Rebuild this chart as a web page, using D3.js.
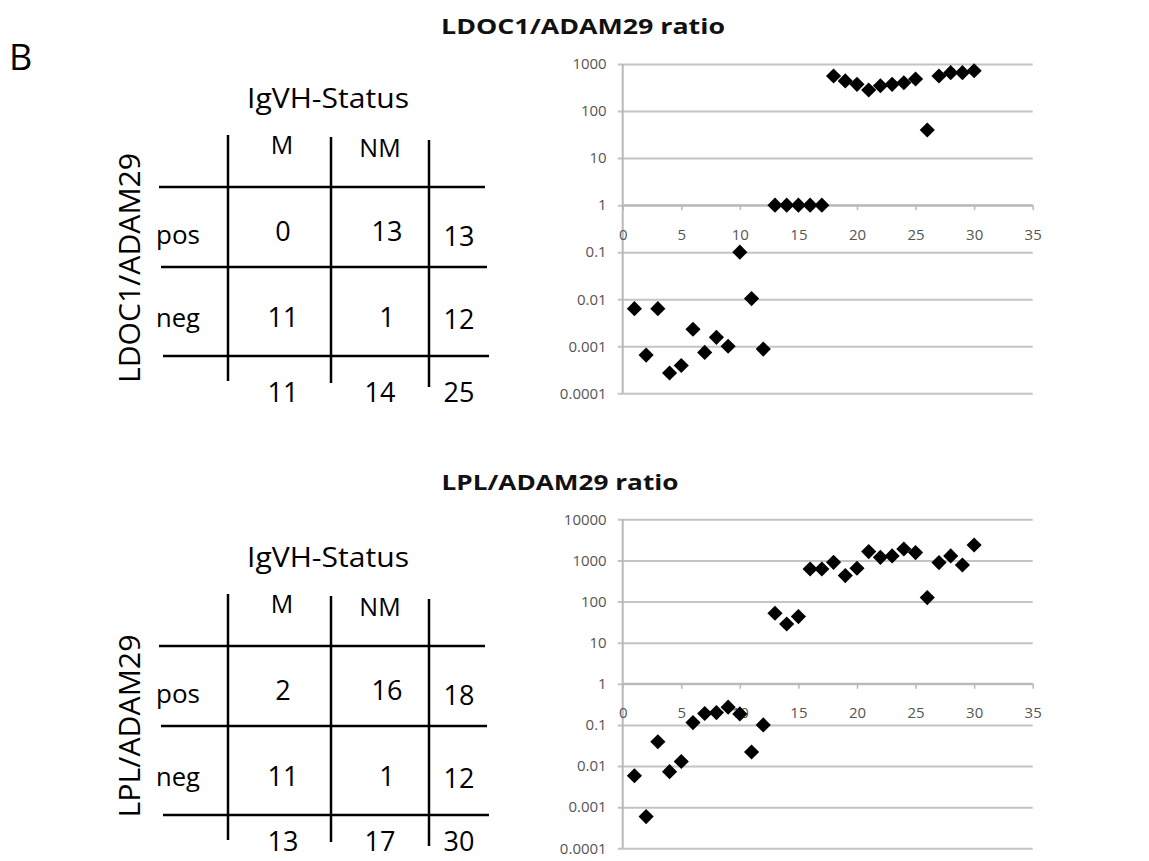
<!DOCTYPE html>
<html>
<head>
<meta charset="utf-8">
<script src="https://cdn.jsdelivr.net/npm/d3@7"></script>
<style>
  body { margin: 0; background: #fff; }
  svg { display: block; }
  text { font-family: "Open Sans", sans-serif; }
</style>
</head>
<body>
<svg id="fig" width="1149" height="861"></svg>
<script>
// sample index 1..30
const samples = d3.range(1, 31);

// LDOC1/ADAM29 ratio per sample
const ldocRatio = [0.0063, 0.00065, 0.0063, 0.00027, 0.00039, 0.0023, 0.00074, 0.00155, 0.001, 0.1,
  0.0103, 0.00087, 1, 1, 1, 1, 1, 556, 437, 370,
  280, 345, 370, 400, 480, 39.6, 556, 654, 654, 720];

// LPL/ADAM29 ratio per sample
const lplRatio = [0.0058, 0.00059, 0.039, 0.0073, 0.0129, 0.114, 0.19, 0.2, 0.27, 0.185,
  0.022, 0.1, 52, 28.5, 43, 620, 620, 900, 427, 645,
  1637, 1190, 1285, 1900, 1550, 125, 885, 1285, 775, 2377];

const xTicks = [0, 5, 10, 15, 20, 25, 30, 35];
const ldocYTicks = [0.0001, 0.001, 0.01, 0.1, 1, 10, 100, 1000];
const lplYTicks = [0.0001, 0.001, 0.01, 0.1, 1, 10, 100, 1000, 10000];

// contingency tables (rows pos/neg, cols M/NM)
const tableCols = ['M', 'NM'];
const tableRows = ['pos', 'neg'];
const ldocCounts = [[0, 13], [11, 1]];
const ldocRowTotals = [13, 12];
const ldocColTotals = [11, 14, 25];
const lplCounts = [[2, 16], [11, 1]];
const lplRowTotals = [18, 12];
const lplColTotals = [13, 17, 30];

const svg = d3.select('#fig');

svg.append('text')
    .attr('x', 9).attr('y', 70)
    .attr('font-size', 36)
    .text('B');

function drawTable(top, label, counts, rowTotals, colTotals, totalsY) {
  const g = svg.append('g').attr('transform', `translate(0,${top})`);
  const vx = [228, 331, 429];
  const vTop = [35, 37, 40];
  const vBot = [281, 283, 287];
  const hy = [87, 167, 256];

  g.append('text')
      .attr('x', 328).attr('y', 8)
      .attr('text-anchor', 'middle')
      .attr('font-size', 27)
      .attr('textLength', 162)
      .attr('lengthAdjust', 'spacingAndGlyphs')
      .text('IgVH-Status');

  g.selectAll('.vline')
    .data(vx)
    .join('line')
      .attr('x1', d => d).attr('x2', d => d)
      .attr('y1', (d, i) => vTop[i]).attr('y2', (d, i) => vBot[i])
      .attr('stroke', '#000')
      .attr('stroke-width', 2.5);

  g.selectAll('.hline')
    .data(hy)
    .join('line')
      .attr('x1', (d, i) => 159 + i * 2).attr('x2', (d, i) => 485 + i * 2)
      .attr('y1', d => d).attr('y2', d => d)
      .attr('stroke', '#000')
      .attr('stroke-width', 2.5);

  const colX = [282, 380];
  const cellX = [283, 387];
  const rowY = [137, 220];

  g.selectAll('.colhead')
    .data(tableCols)
    .join('text')
      .attr('x', (d, i) => colX[i]).attr('y', (d, i) => 54 + i * 3)
      .attr('text-anchor', 'middle')
      .attr('font-size', 25)
      .text(d => d);

  tableRows.forEach((r, ri) => {
    g.append('text')
        .attr('x', 156).attr('y', rowY[ri] + 7)
        .attr('font-size', 26)
        .attr('textLength', 44)
        .attr('lengthAdjust', 'spacingAndGlyphs')
        .text(r);
    counts[ri].forEach((v, ci) => {
      g.append('text')
          .attr('x', cellX[ci]).attr('y', rowY[ri] + 7 - (ri === 0 ? 3 : 0))
          .attr('text-anchor', 'middle')
          .attr('font-size', 27)
          .text(v);
    });
    g.append('text')
        .attr('x', 459).attr('y', rowY[ri] + 9)
        .attr('text-anchor', 'middle')
        .attr('font-size', 27)
        .text(rowTotals[ri]);
  });

  colTotals.forEach((v, i) => {
    g.append('text')
        .attr('x', [283, 380, 459][i]).attr('y', totalsY)
        .attr('text-anchor', 'middle')
        .attr('font-size', 27)
        .text(v);
  });

  g.append('text')
      .attr('transform', `translate(140,${label.cy}) rotate(-90)`)
      .attr('text-anchor', 'middle')
      .attr('font-size', 29)
      .attr('textLength', label.len)
      .attr('lengthAdjust', 'spacingAndGlyphs')
      .text(label.text);
}

drawTable(100, { text: 'LDOC1/ADAM29', cy: 168, len: 230 }, ldocCounts, ldocRowTotals, ldocColTotals, 302);
drawTable(559, { text: 'LPL/ADAM29', cy: 167, len: 183 }, lplCounts, lplRowTotals, lplColTotals, 292);

function drawScatter(cfg) {
  const x = d3.scaleLinear().domain([0, 35]).range([622.7, 1032.7]);
  const y = d3.scaleLog().domain(cfg.yDomain).range(cfg.yRange);
  const g = svg.append('g');

  g.append('text')
      .attr('x', cfg.titleX).attr('y', cfg.titleY)
      .attr('text-anchor', 'middle')
      .attr('font-size', 22)
      .attr('font-weight', 'bold')
      .attr('fill', '#111')
      .attr('textLength', cfg.titleLen)
      .attr('lengthAdjust', 'spacingAndGlyphs')
      .text(cfg.title);

  // horizontal gridlines + left tick labels
  const yAxis = d3.axisLeft(y)
      .tickValues(cfg.yTicks)
      .tickFormat(d => String(+d.toPrecision(1)))
      .tickSize(-(x(35) - x(0)))
      .tickPadding(16);

  const ya = g.append('g')
      .attr('transform', `translate(${x(0)},0)`)
      .call(yAxis);
  ya.select('.domain').remove();
  ya.selectAll('.tick line')
      .attr('x1', -5)
      .attr('stroke', '#c4c4c4')
      .attr('stroke-width', 2);
  ya.selectAll('.tick text')
      .attr('font-size', 15)
      .attr('font-family', '"Open Sans", sans-serif')
      .attr('fill', '#555');

  g.append('line')
      .attr('x1', x(0)).attr('x2', x(0))
      .attr('y1', y(cfg.yDomain[1])).attr('y2', y(cfg.yDomain[0]))
      .attr('stroke', '#b8b8b8')
      .attr('stroke-width', 2);

  // x axis crosses at y = 1
  const xAxis = d3.axisBottom(x)
      .tickValues(xTicks)
      .tickSize(5)
      .tickPadding(19);
  const xa = g.append('g')
      .attr('transform', `translate(0,${y(1)})`)
      .call(xAxis);
  xa.select('.domain')
      .attr('stroke', '#b8b8b8')
      .attr('stroke-width', 2)
      .attr('d', `M${x(0)},0H${x(35)}`);
  xa.selectAll('.tick line')
      .attr('stroke', '#b8b8b8')
      .attr('stroke-width', 1.5);
  xa.selectAll('.tick text')
      .attr('font-size', 15)
      .attr('font-family', '"Open Sans", sans-serif')
      .attr('fill', '#555');

  const diamond = d3.symbol().type(d3.symbolSquare).size(115);
  g.selectAll('.pt')
    .data(samples.map((s, i) => ({ s, v: cfg.values[i] })))
    .join('path')
      .attr('d', diamond)
      .attr('transform', d => `translate(${x(d.s)},${y(d.v)}) rotate(45)`)
      .attr('fill', '#000');
}

drawScatter({
  title: 'LDOC1/ADAM29 ratio', titleX: 583, titleY: 34, titleLen: 284,
  values: ldocRatio, yDomain: [0.0001, 1000], yRange: [393.3, 64], yTicks: ldocYTicks
});

drawScatter({
  title: 'LPL/ADAM29 ratio', titleX: 560, titleY: 490, titleLen: 237,
  values: lplRatio, yDomain: [0.0001, 10000], yRange: [848.3, 519.3], yTicks: lplYTicks
});
</script>
</body>
</html>
